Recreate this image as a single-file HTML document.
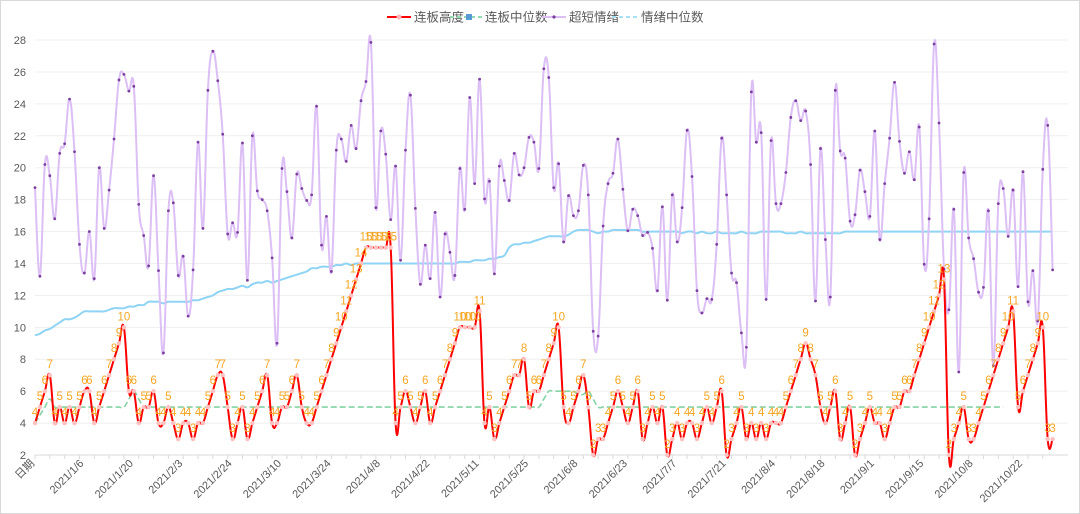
<!DOCTYPE html>
<html><head><meta charset="utf-8"><style>
html,body{margin:0;padding:0;background:#fff}
svg{display:block;font-family:"Liberation Sans","Noto Sans CJK SC",sans-serif}
</style></head><body>
<svg id="chart" width="1080" height="514" viewBox="0 0 1080 514" xmlns="http://www.w3.org/2000/svg">
<rect x="0.5" y="0.5" width="1079" height="513" fill="#fff" stroke="#d9d9d9"/>
<g id="legend">
 <g>
  <line x1="387" y1="17" x2="411" y2="17" stroke="#ff0000" stroke-width="2"/><circle cx="399" cy="17" r="2.5" fill="#ffb6b6"/>
  <text x="414" y="21.5" font-size="12.5" fill="#595959">连板高度</text></g>
 <g>
  <line x1="450" y1="17" x2="482" y2="17" stroke="#8fdcb0" stroke-width="2" stroke-dasharray="4,3"/><rect x="466" y="14" width="6" height="6" fill="#5b9bd5"/>
  <text x="485" y="21.5" font-size="12.5" fill="#595959">连板中位数</text></g>
 <g>
  <line x1="542" y1="17" x2="566" y2="17" stroke="#dcbff5" stroke-width="2"/><circle cx="554" cy="17" r="1.6" fill="#7b3f9e"/>
  <text x="569" y="21.5" font-size="12.5" fill="#595959">超短情绪</text></g>
 <g>
  <line x1="612" y1="17" x2="638" y2="17" stroke="#a8e0f7" stroke-width="2" stroke-dasharray="4,3"/>
  <text x="641" y="21.5" font-size="12.5" fill="#595959">情绪中位数</text></g>
</g>
<g id="grid"></g><g id="axes"></g><g id="series"></g><g id="labels"></g>
</svg>
<script>
const xLabels = ["日期","2021/1/6","2021/1/20","2021/2/3","2021/2/24","2021/3/10","2021/3/24","2021/4/8","2021/4/22","2021/5/11","2021/5/25","2021/6/8","2021/6/23","2021/7/7","2021/7/21","2021/8/4","2021/8/18","2021/9/1","2021/9/15","2021/10/8","2021/10/22"];
const yTicks = [2,4,6,8,10,12,14,16,18,20,22,24,26,28];
const boardHeight = [4,5,6,7,4,5,4,5,4,5,6,6,4,5,6,7,8,9,10,6,6,4,5,5,6,4,4,5,4,3,4,4,3,4,4,5,
6,7,7,5,3,4,5,3,4,5,6,7,4,4,5,5,6,7,5,4,4,5,6,7,8,9,10,11,12,13,14,15,15,15,15,15,15,
4,5,6,5,4,5,6,4,5,6,7,8,9,10,10,10,10,11,4,5,3,4,5,6,7,7,8,5,6,6,7,8,
9,10,5,4,5,6,7,5,2,3,3,4,5,6,5,4,5,6,3,4,5,4,5,2,3,4,3,4,4,3,4,5,4,5,
6,2,3,4,5,3,4,3,4,3,4,4,4,5,6,7,8,9,8,7,5,4,5,6,3,4,5,2,3,4,5,4,4,3,4,
5,5,6,6,7,8,9,10,11,12,13,2,3,4,5,3,3,4,5,6,7,8,9,10,11,5,6,7,8,9,10,3,3];
const boardMedian = [4,4.5,5,5.5,5,5,5,5,5,5,5,5,5,5,5,5,5,5,5,5.5,6,5.5,5,5,5,5,5,5,5,5,
5,5,5,5,5,5,5,5,5,5,5,5,5,5,5,5,5,5,5,5,5,5,5,5,5,5,5,5,5,5,
5,5,5,5,5,5,5,5,5,5,5,5,5,5,5,5,5,5,5,5,5,5,5,5,5,5,5,5,5,5,
5,5,5,5,5,5,5,5,5,5,5,5,5,5.5,6,6,6,6,6,6,5.8,5.8,6,5.5,5,5,5,5,5,5,
5,5,5,5,5,5,5,5,5,5,5,5,5,5,5,5,5,5,5,5,5,5,5,5,5,5,5,5,5,5,
5,5,5,5,5,5,5,5,5,5,5,5,5,5,5,5,5,5,5,5,5,5,5,5,5,5,5,5,5,5,
5,5,5,5,5,5,5,5,5,5,5,5,5,5,5,5,5];
const sentiment = [18.75,13.2,20.2,19.5,16.8,20.9,21.5,24.3,21.0,15.2,13.4,16.0,13.05,20.0,16.2,18.6,21.8,25.5,25.85,24.8,25.1,17.7,15.75,13.85,19.5,13.55,8.4,17.3,17.8,13.25,14.45,10.7,13.6,21.6,16.2,24.85,
27.3,25.45,22.1,15.85,16.55,15.95,21.55,12.95,22.0,18.55,18.0,17.3,14.35,9.0,19.95,18.5,15.6,19.6,18.7,17.95,18.3,23.85,15.15,16.95,13.5,21.1,21.8,20.4,22.65,21.2,24.2,25.4,27.85,17.5,
22.3,20.85,16.75,20.1,14.2,21.1,24.55,17.45,12.7,15.15,13.05,17.2,11.9,15.85,14.7,13.25,19.95,17.4,24.4,19.0,25.55,18.05,19.15,13.35,20.1,19.2,17.95,20.9,19.55,20.0,21.9,21.6,19.95,26.2,25.65,
18.75,20.25,15.35,18.25,17.0,17.3,20.15,18.3,9.75,9.45,16.35,19.0,19.65,21.8,18.65,16.05,17.4,17.0,15.75,15.95,14.95,12.3,17.55,11.7,18.3,15.35,17.5,22.35,19.45,12.3,10.9,11.8,11.75,15.2,
21.85,18.3,13.4,12.8,9.65,8.75,24.75,21.6,22.2,11.75,21.7,17.75,17.75,19.7,23.15,24.2,22.95,23.55,20.2,11.65,21.2,15.5,11.9,24.85,21.05,20.6,16.65,17.05,19.85,18.5,16.95,22.3,15.5,19.0,21.85,
25.35,21.65,19.65,21.0,19.25,22.55,13.95,16.8,27.75,22.8,13.65,11.1,17.4,7.2,19.7,15.6,14.3,12.2,12.5,17.3,7.6,17.75,18.7,15.7,18.6,12.55,19.75,11.6,13.55,10.4,19.9,22.65,13.6];
const sentimentMedian = [9.5,9.6,9.8,9.9,10.1,10.3,10.5,10.5,10.6,10.8,11.0,11.0,11.0,11.0,11.0,11.1,11.2,11.2,11.2,11.3,
11.3,11.4,11.4,11.6,11.6,11.6,11.5,11.6,11.6,11.6,11.6,11.6,11.7,11.7,11.8,11.9,12.0,12.2,12.3,12.4,
12.4,12.5,12.6,12.5,12.7,12.8,12.8,12.9,12.8,12.9,13.0,13.1,13.2,13.3,13.4,13.5,13.7,13.7,13.8,13.8,
13.8,13.9,13.9,14.0,13.9,14.0,14.0,14.0,14.0,14.0,14.0,14.0,14.0,14.0,14.0,14.0,14.0,14.0,14.0,14.0,
14.0,14.0,14.0,14.0,14.0,14.0,14.1,14.1,14.1,14.2,14.2,14.2,14.3,14.3,14.4,14.5,15.0,15.2,15.2,15.3,
15.3,15.4,15.5,15.6,15.7,15.7,15.7,15.7,15.8,16.0,16.1,16.1,16.1,16.0,15.9,16.0,16.0,16.1,16.1,16.1,
16.1,16.1,16.1,16.0,16.0,16.0,16.0,16.0,16.0,16.0,16.0,15.9,16.0,16.0,15.9,16.0,15.9,15.9,16.0,15.9,
15.9,15.9,15.9,16.0,15.9,15.9,15.9,16.0,16.0,16.0,16.0,16.0,15.9,15.9,15.9,16.0,15.9,15.9,15.9,15.9,
15.9,15.9,15.9,15.9,16.0,16.0,16.0,16.0,16.0,16.0,16.0,16.0,16.0,16.0,16.0,16.0,16.0,16.0,16.0,16.0,
16.0,16.0,16.0,16.0,16.0,16.0,16.0,16.0,16.0,16.0,16.0,16.0,16.0,16.0,16.0,16.0,16.0,16.0,16.0,16.0,
16.0,16.0,16.0,16.0,16.0,16.0,16.0];

const NS="http://www.w3.org/2000/svg";
const X0=35, DX=4.94, Y0=455, PY=15.96, XR=1068;
const xs = i => X0 + i*DX;
const ys = v => Y0 - (v-2)*PY;
function mk(tag, parent, attrs){const e=document.createElementNS(NS,tag);for(const k in attrs)e.setAttribute(k,attrs[k]);parent.appendChild(e);return e;}
const grid=document.getElementById('grid'), axes=document.getElementById('axes'), series=document.getElementById('series'), labels=document.getElementById('labels');

yTicks.forEach(t=>{
  const l=mk('line',grid,{x1:X0,x2:XR,y1:ys(t),y2:ys(t),stroke:t===2?'#d9d9d9':'#efefef','stroke-width':1});
  
  
  const tx=mk('text',axes,{x:26,y:ys(t)+4,'text-anchor':'end','font-size':11,fill:'#595959'});
  tx.textContent=t;
  
  
});
const N=sentiment.length;
for(let i=0;i<N;i+=3){
  const tk=mk('line',axes,{x1:xs(i),x2:xs(i),y1:Y0,y2:Y0+4,stroke:'#d9d9d9'});
  
  
}
xLabels.forEach((s,k)=>{
  const x=xs(k*10), y=Y0+9;
  const tx=mk('text',axes,{x:x,y:y,'text-anchor':'end','font-size':11,fill:'#595959',transform:`rotate(-45 ${x} ${y})`});
  tx.textContent=s;
  
  
});

function smoothPath(vals){
  const p=vals.map((v,i)=>[xs(i),ys(v)]);
  let d=`M${p[0][0]},${p[0][1]}`;
  for(let i=0;i<p.length-1;i++){
    const p0=p[i-1]||p[i],p1=p[i],p2=p[i+1],p3=p[i+2]||p2,t=0.2;
    const c1=[p1[0]+(p2[0]-p0[0])*t,p1[1]+(p2[1]-p0[1])*t];
    const c2=[p2[0]-(p3[0]-p1[0])*t,p2[1]-(p3[1]-p1[1])*t];
    d+=`C${c1[0].toFixed(1)},${c1[1].toFixed(1)} ${c2[0].toFixed(1)},${c2[1].toFixed(1)} ${p2[0].toFixed(1)},${p2[1].toFixed(1)}`;
  }
  return d;
}
const pm=mk('path',series,{d:smoothPath(sentimentMedian),fill:'none',stroke:'#8fd3f5','stroke-width':2});


const ps=mk('path',series,{d:smoothPath(sentiment),fill:'none',stroke:'#dcbff5','stroke-width':2});


sentiment.forEach((v,i)=>{
  const c=mk('circle',series,{cx:xs(i),cy:ys(v),r:1.4,fill:'#7b3f9e'});
  
  
});
const pbm=mk('path',series,{d:smoothPath(boardMedian),fill:'none',stroke:'#84d4a4','stroke-width':1.6,'stroke-dasharray':'6,3'});


const pb=mk('path',series,{d:smoothPath(boardHeight),fill:'none',stroke:'#ff0000','stroke-width':2});


boardHeight.forEach((v,i)=>{
  const c=mk('circle',series,{cx:xs(i),cy:ys(v),r:2.2,fill:'#ffc0c0'});
  
  
  const t=mk('text',labels,{x:xs(i),y:ys(v)-7,'text-anchor':'middle','font-size':11.5,fill:'#f5a623'});
  t.textContent=v;
  
  
});
</script>
</body></html>
